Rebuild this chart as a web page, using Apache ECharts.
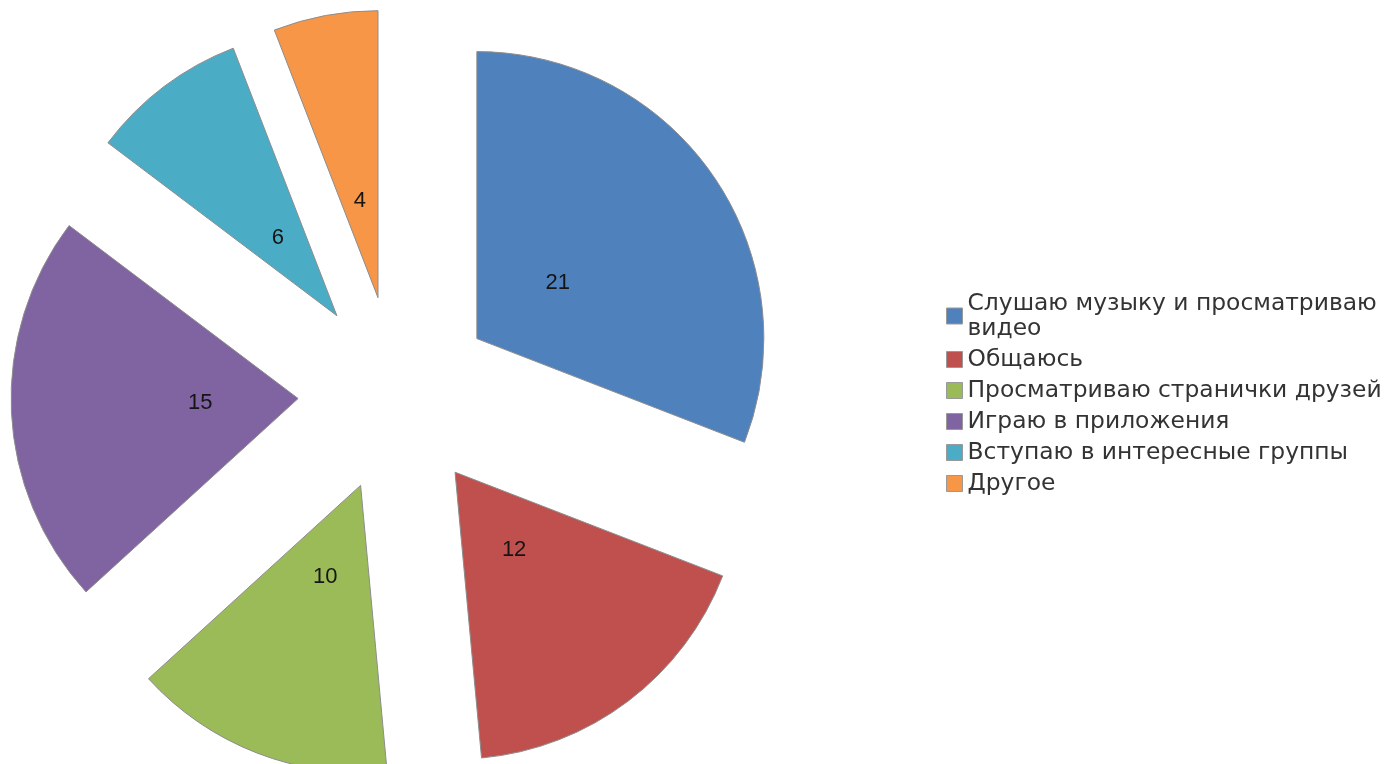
<!DOCTYPE html>
<html>
<head>
<meta charset="utf-8">
<script src="https://cdn.jsdelivr.net/npm/echarts@6/dist/echarts.min.js"></script>
<style>
html,body{margin:0;padding:0;background:#fff;}
#chart{width:1393px;height:764px;}
</style>
</head>
<body>
<div id="chart"></div>
<script>
const categories = ['Слушаю музыку и просматриваю видео','Общаюсь','Просматриваю странички друзей','Играю в приложения','Вступаю в интересные группы','Другое'];
const values = [21, 12, 10, 15, 6, 4];
const colors = ['#4F81BD','#C0504D','#9BBB59','#8064A2','#4BACC6','#F79646'];

const chart = echarts.init(document.getElementById('chart'));
const mainData = categories.map((n,i)=>({name:n, value:values[i], selected:true, itemStyle:{color:colors[i]}}));
const labelData = categories.map((n,i)=>({name:n, value:values[i], selected:true}));
const center = [396, 394];
const offset = 98;
chart.setOption({
  animation:false,
  color: colors,
  legend:{
    orient:'vertical',
    left:941, top:286,
    itemWidth:16, itemHeight:16, itemGap:6,
    icon:'rect',
    data: categories,
    formatter: n => n === categories[0] ? 'Слушаю музыку и просматриваю\nвидео' : n,
    textStyle:{fontFamily:'DejaVu Sans', fontSize:23.4, color:'#333', lineHeight:25},
    itemStyle:{borderColor:'#999', borderWidth:1},
    selectedMode:false
  },
  series:[
    {
      type:'pie', center:center, radius:[0,287],
      startAngle:90, clockwise:true,
      selectedMode:'multiple', selectedOffset:offset,
      silent:true,
      itemStyle:{borderColor:'#8c8c8c', borderWidth:1},
      select:{itemStyle:{borderColor:'#8c8c8c', borderWidth:1}},
      emphasis:{disabled:true},
      label:{show:false}, labelLine:{show:false},
      data: mainData
    },
    {
      type:'pie', center:center, radius:[0,190],
      startAngle:90, clockwise:true,
      selectedMode:'multiple', selectedOffset:offset,
      silent:true, legendHoverLink:false,
      itemStyle:{color:'rgba(0,0,0,0)', borderWidth:0},
      select:{itemStyle:{color:'rgba(0,0,0,0)', borderWidth:0}},
      emphasis:{disabled:true},
      label:{show:true, position:'inside', formatter:'{c}', fontFamily:'Liberation Sans, Arial', fontSize:22, color:'#151515'},
      labelLine:{show:false},
      data: labelData
    }
  ]
});
</script>
</body>
</html>
